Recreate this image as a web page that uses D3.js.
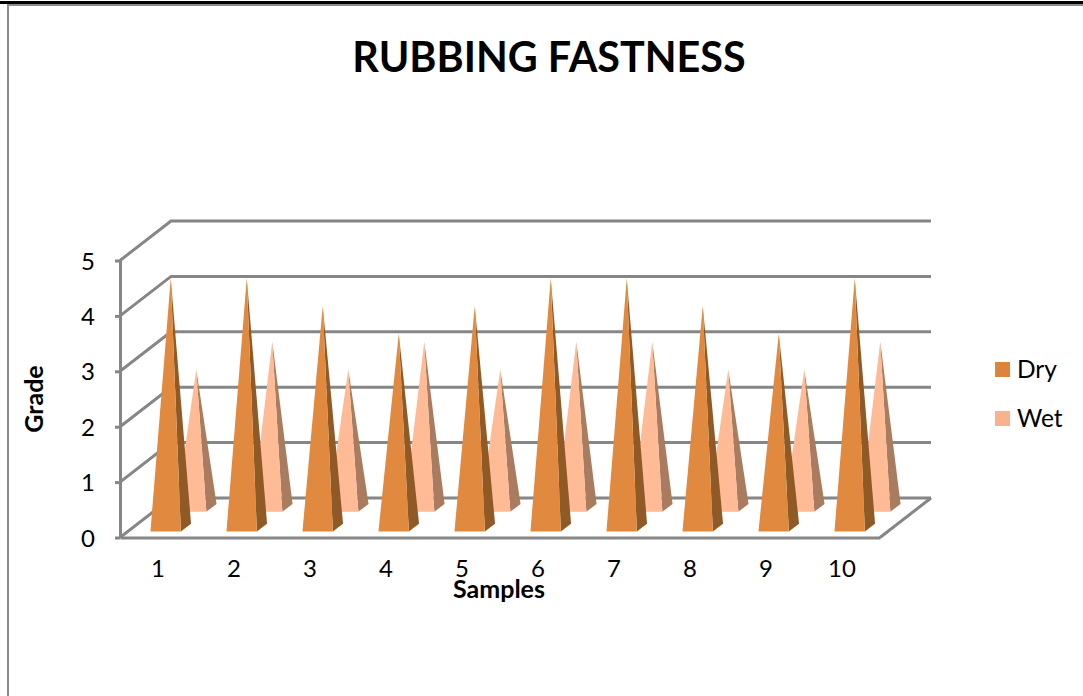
<!DOCTYPE html>
<html>
<head>
<meta charset="utf-8">
<script src="https://cdn.jsdelivr.net/npm/d3@7"></script>
<style>
  html, body { margin: 0; padding: 0; background: #fff; overflow: hidden; }
  svg { display: block; }
  text { font-family: Lato, "Open Sans", sans-serif; fill: #000; }
  .axis path, .axis line { stroke: #868686; stroke-width: 3; }
  .axis text { font-size: 24px; font-family: Lato, sans-serif; }
  .grid-line { stroke: #868686; stroke-width: 3; fill: none; }
</style>
</head>
<body>
<div id="chart"></div>
<script>
// Values
var samples = ["1", "2", "3", "4", "5", "6", "7", "8", "9", "10"];
var dryValues = [4.5, 4.5, 4, 3.5, 4, 4.5, 4.5, 4, 3.5, 4.5];
var wetValues = [2.5, 3, 2.5, 3, 2.5, 3, 3, 2.5, 2.5, 3];
var gradeTicks = [0, 1, 2, 3, 4, 5];
var seriesNames = ["Dry", "Wet"];

var width = 1083;
var height = 696;

// Front plane of the 3d box, and how far the back wall is shifted from it
var plot = { left: 120, right: 880, top: 260, bottom: 537.5 };
var depthX = 51;
var depthY = -39.5;

var xScale = d3.scaleBand().domain(samples).range([plot.left, plot.right]);
var yScale = d3.scaleLinear().domain([0, 5]).range([plot.bottom, plot.top + 0.5]);

var project = function(x, value, depth) {
  return [x + depth * depthX, yScale(value) + depth * depthY];
};

var svg = d3.select("#chart")
  .append("svg")
  .attr("width", width)
  .attr("height", height);

svg.append("rect").attr("width", width).attr("height", height).attr("fill", "#fff");

// Page border left over from the screenshot
svg.append("rect").attr("x", 0).attr("y", 1).attr("width", width).attr("height", 3).attr("fill", "#000");
svg.append("rect").attr("x", 8).attr("y", 4).attr("width", width - 8).attr("height", 2).attr("fill", "#8c8c8c");
svg.append("rect").attr("x", 7).attr("y", 4).attr("width", 2).attr("height", height).attr("fill", "#8c8c8c");

// Back wall grid and the slanted side wall lines
var grid = svg.append("g");

gradeTicks.forEach(function(t) {
  var front = project(plot.left, t, 0);
  var back = project(plot.left, t, 1);
  var backEnd = project(plot.right, t, 1);
  grid.append("polyline")
    .attr("class", "grid-line")
    .attr("points", [front, back, backEnd].join(" "));
});

// Floor edge on the right
var floorFront = project(plot.right, 0, 0);
var floorBack = project(plot.right, 0, 1);
grid.append("line")
  .attr("class", "grid-line")
  .attr("x1", floorFront[0]).attr("y1", floorFront[1])
  .attr("x2", floorBack[0]).attr("y2", floorBack[1]);

// Axes
var yAxis = d3.axisLeft(yScale)
  .tickValues(gradeTicks)
  .tickFormat(d3.format("d"))
  .tickSize(5)
  .tickPadding(20)
  .tickSizeOuter(0);
svg.append("g")
  .attr("class", "axis")
  .attr("transform", "translate(" + plot.left + ",0)")
  .call(yAxis)
  .selectAll("text")
  .attr("dy", "0.36em");

var xAxis = d3.axisBottom(xScale).tickSize(0).tickPadding(22).tickSizeOuter(0);
svg.append("g")
  .attr("class", "axis")
  .attr("transform", "translate(0," + plot.bottom + ")")
  .call(xAxis);

// Draw one series of pyramids, sitting at the given depth in the box
var renderPyramids = function(values, names, depthFront, depthBack, frontColor, sideColor) {
  var halfGap = 0.3;
  var group = svg.append("g").attr("class", names);
  var depthMid = (depthFront + depthBack) / 2;

  var corners = function(d, i) {
    var bandLeft = xScale(samples[i]);
    var bw = xScale.bandwidth();
    var xl = bandLeft + bw * halfGap;
    var xr = bandLeft + bw * (1 - halfGap);
    return {
      fl: project(xl, 0, depthFront),
      fr: project(xr, 0, depthFront),
      br: project(xr, 0, depthBack),
      apex: project((xl + xr) / 2, d, depthMid)
    };
  };

  group.selectAll("polygon.side")
    .data(values)
    .enter()
    .append("polygon")
    .attr("class", "side")
    .attr("fill", sideColor)
    .attr("points", function(d, i) {
      var c = corners(d, i);
      return [c.fr, c.br, c.apex].join(" ");
    });

  group.selectAll("polygon.front")
    .data(values)
    .enter()
    .append("polygon")
    .attr("class", "front")
    .attr("fill", frontColor)
    .attr("points", function(d, i) {
      var c = corners(d, i);
      return [c.fl, c.fr, c.apex].join(" ");
    });
};

renderPyramids(wetValues, "Wet", 0.65, 0.85, "#ffba96", "#a97b5f");
renderPyramids(dryValues, "Dry", 0.15, 0.35, "#e1893f", "#8f5a26");

// Titles
svg.append("text")
  .attr("x", 549).attr("y", 71.5)
  .attr("text-anchor", "middle")
  .style("font-size", "41.3px")
  .style("font-weight", "700")
  .text("RUBBING FASTNESS");

svg.append("text")
  .attr("transform", "translate(43,399) rotate(-90)")
  .attr("text-anchor", "middle")
  .style("font-size", "25px")
  .style("font-weight", "700")
  .text("Grade");

svg.append("text")
  .attr("x", 499).attr("y", 598)
  .attr("text-anchor", "middle")
  .style("font-size", "25px")
  .style("font-weight", "700")
  .text("Samples");

// Legend
var legendColors = d3.scaleOrdinal().domain(seriesNames).range(["#dd843c", "#fab28c"]);
var legendY = d3.scalePoint().domain(seriesNames).range([369.5, 418.5]);

var legend = svg.append("g")
  .selectAll("g")
  .data(seriesNames)
  .enter()
  .append("g")
  .attr("transform", function(d) { return "translate(995," + legendY(d) + ")"; });

legend.append("rect")
  .attr("y", -7.5)
  .attr("width", 15)
  .attr("height", 15)
  .attr("fill", function(d) { return legendColors(d); });

legend.append("text")
  .attr("x", 22)
  .attr("y", 8)
  .style("font-size", "24.5px")
  .text(function(d) { return d; });
</script>
</body>
</html>
